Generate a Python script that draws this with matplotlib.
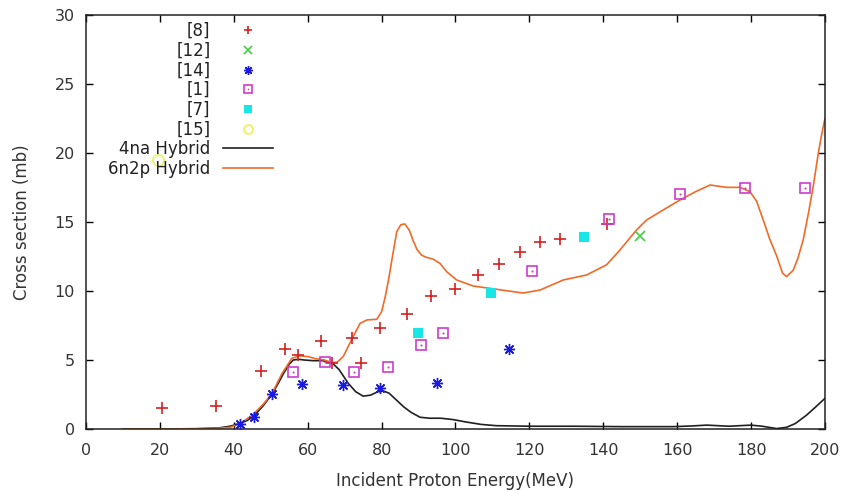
import matplotlib
matplotlib.use("Agg")
import matplotlib.pyplot as plt
from matplotlib.legend_handler import HandlerTuple

plt.rcParams['font.family'] = ['DejaVu Sans']

# ---- data ----
ref8_x = [20.5, 35.2, 47.4, 53.9, 57.5, 63.6, 66.6, 71.9, 74.4, 79.6, 87.0, 93.4, 100.0, 106.0, 111.8, 117.5, 122.9, 128.4, 140.9]
ref8_y = [1.50, 1.68, 4.20, 5.83, 5.33, 6.40, 4.78, 6.60, 4.76, 7.34, 8.36, 9.66, 10.15, 11.18, 11.96, 12.80, 13.55, 13.80, 14.86]

ref12_x = [149.9]
ref12_y = [14.0]

ref14_x = [41.7, 45.5, 50.4, 58.5, 69.6, 79.7, 94.9, 114.6]
ref14_y = [0.34, 0.85, 2.51, 3.26, 3.16, 2.99, 3.31, 5.80]

ref1_x = [56.1, 64.7, 72.6, 81.6, 90.7, 96.6, 120.8, 141.6, 160.7, 178.3, 194.5]
ref1_y = [4.10, 4.88, 4.10, 4.52, 6.09, 6.93, 11.47, 15.20, 17.03, 17.49, 17.49]

ref7_x = [89.9, 109.6, 134.8]
ref7_y = [6.96, 9.88, 13.94]

ref15_x = [19.6]
ref15_y = [19.5]

na4_x = [10, 20, 30, 36, 39, 41.7, 43.5, 45.3, 48, 50.4, 52, 53.4, 55, 56.1, 57.5, 59, 61.5, 64, 66.6,
         68.5, 71, 73, 75, 77, 79, 80.5, 82, 84, 86, 88, 90.4, 93, 96, 99.4, 103, 107, 111, 120, 132,
         145, 159, 164, 168, 174, 180, 183, 186.9, 189.6, 192, 195, 197.5, 200]
na4_y = [0.0, 0.0, 0.02, 0.08, 0.2, 0.4, 0.6, 0.9, 1.7, 2.55, 3.3, 4.0, 4.7, 5.0, 5.05, 5.0, 4.95, 4.95, 4.8,
         4.3, 3.3, 2.7, 2.38, 2.45, 2.7, 2.75, 2.6, 2.1, 1.6, 1.2, 0.85, 0.78, 0.78, 0.68, 0.5, 0.33, 0.24, 0.2, 0.2,
         0.17, 0.17, 0.22, 0.28, 0.2, 0.28, 0.2, 0.03, 0.12, 0.4, 1.0, 1.6, 2.22]

n2p6_x = [10, 20, 30, 36, 39, 41.7, 45, 48, 50.4, 53, 55.7, 57.9, 60, 62, 64.5, 66.6, 68, 69.6, 71, 72.5,
          74.2, 76, 78.7, 80, 81, 82, 83, 84.1, 85.2, 86.3, 87.5, 88.6, 89.6, 90.8, 92, 94, 95.8, 97.6,
          100.3, 104.8, 111.2, 118.3, 122.9, 129.2, 135.5, 140.9, 144.5, 149, 151.7, 156.2, 160.8, 165,
          168.9, 171, 173.4, 177, 179.7, 181.5, 183.3, 185, 187, 188.5, 189.6, 191.4, 192.7, 194.1, 195.5,
          196.8, 198.2, 199, 200]
n2p6_y = [0, 0, 0.02, 0.06, 0.12, 0.4, 1.0, 1.8, 2.6, 4.0, 5.12, 5.3, 5.25, 5.1, 5.0, 4.8, 4.85, 5.24, 6.0, 6.8,
          7.66, 7.9, 7.95, 8.5, 9.6, 11.0, 12.6, 14.3, 14.8, 14.86, 14.4, 13.6, 13.0, 12.6, 12.45, 12.3, 12.0, 11.4,
          10.8, 10.36, 10.12, 9.85, 10.07, 10.8, 11.16, 11.9, 12.97, 14.42, 15.14, 15.87, 16.6, 17.2,
          17.68, 17.6, 17.51, 17.51, 17.2, 16.5, 15.14, 13.8, 12.49, 11.3, 11.04, 11.5, 12.4, 13.7, 15.6,
          17.56, 19.98, 21.2, 22.5]

x_ticks = [0, 20, 40, 60, 80, 100, 120, 140, 160, 180, 200]
y_ticks = [0, 5, 10, 15, 20, 25, 30]

# ---- figure ----
fig = plt.figure(figsize=(8.45, 4.91), dpi=100)
ax = fig.add_axes([0.1018, 0.1263, 0.8745, 0.8432])

l_na4, = ax.plot(na4_x, na4_y, color='#202020', lw=1.2, zorder=2)
l_n2p, = ax.plot(n2p6_x, n2p6_y, color='#f06a28', lw=1.2, zorder=2)

h8, = ax.plot(ref8_x, ref8_y, ls='none', marker='+', ms=8, mew=1.2, color='#d42020', zorder=3)
h12, = ax.plot(ref12_x, ref12_y, ls='none', marker='x', ms=7, mew=1.2, color='#40d040', zorder=3)
h14, = ax.plot(ref14_x, ref14_y, ls='none', marker=(8, 2, 0), ms=8, mew=1.0, color='#1a1ae6', zorder=3)
h1, = ax.plot(ref1_x, ref1_y, ls='none', marker='s', ms=7, mew=1.2, mfc='none', mec='#cc3ccc', zorder=3)
h1d, = ax.plot(ref1_x, ref1_y, ls='none', marker='o', ms=1.5, mew=0, color='#cc3ccc', zorder=3)
h7, = ax.plot(ref7_x, ref7_y, ls='none', marker='s', ms=7, mew=0, color='#18e6e6', zorder=3)
h15, = ax.plot(ref15_x, ref15_y, ls='none', marker='o', ms=8, mew=1.3, mfc='none', mec='#f0f060', zorder=3)

ax.set_xlim(0, 200)
ax.set_ylim(0, 30)
ax.set_xticks(x_ticks)
ax.set_yticks(y_ticks)
ax.tick_params(direction='in', top=True, right=True, length=5, width=1,
               labelsize=11.5, labelcolor='#333333', pad=8)
ax.tick_params(axis='x', pad=10)
for sp in ax.spines.values():
    sp.set_linewidth(1.1)
    sp.set_color('#222222')

ax.set_xlabel('Incident Proton Energy(MeV)', fontsize=12, color='#333333', labelpad=10)
ax.set_ylabel('Cross section (mb)', fontsize=12, color='#333333', labelpad=17)

leg = ax.legend([h8, h12, h14, (h1, h1d), h7, h15, l_na4, l_n2p],
                ['[8]', '[12]', '[14]', '[1]', '[7]', '[15]', '4na Hybrid', '6n2p Hybrid'],
                handler_map={tuple: HandlerTuple(ndivide=1, pad=0)},
                markerfirst=False, frameon=False, loc='upper left', markerscale=0.8,
                bbox_to_anchor=(0.03, 0.983), fontsize=12, labelspacing=0.1,
                handlelength=3.0, handletextpad=0.78, borderaxespad=0.0, borderpad=0.0)
for t in leg.get_texts():
    t.set_color('#222222')

fig.savefig('out.png', dpi=100)
